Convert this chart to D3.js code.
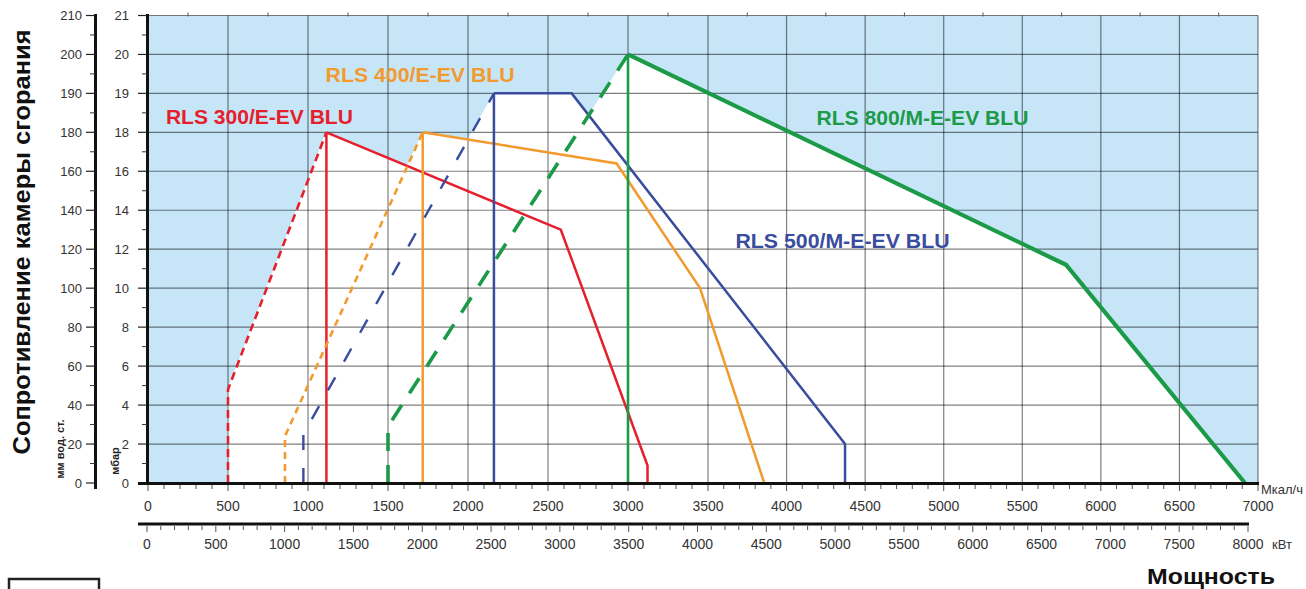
<!DOCTYPE html>
<html><head><meta charset="utf-8">
<script src="https://cdn.jsdelivr.net/npm/d3@7"></script>
<style>
html,body{margin:0;padding:0;background:#fff;}
svg{display:block;}
text{font-family:"Liberation Sans Narrow","Arial Narrow","Liberation Sans",Arial,sans-serif;}
text.b{font-family:"Liberation Sans",Arial,sans-serif;font-weight:bold;}
</style></head><body>
<svg id="c" width="1306" height="589"></svg>
<script>
// ---- data ----
const mcalTicks = [0,500,1000,1500,2000,2500,3000,3500,4000,4500,5000,5500,6000,6500,7000];
const kwTicks = [0,500,1000,1500,2000,2500,3000,3500,4000,4500,5000,5500,6000,6500,7000,7500,8000];
const mbarTicks = [0,2,4,6,8,10,12,14,16,18,19,20,21];
const mmTicks = [0,20,40,60,80,100,120,140,160,180,190,200,210];
const seriesNames = ["RLS 300/E-EV BLU","RLS 400/E-EV BLU","RLS 500/M-E-EV BLU","RLS 800/M-E-EV BLU"];
// [Mcal/h, mbar]
const rls300Start = [[500,0],[500,4.8],[1115,18]];
const rls300Curve = [[1115,0],[1115,18],[2580,13],[3122,0.9],[3122,0]];
const rls400Start = [[856,0],[856,2.4],[1717,18]];
const rls400Curve = [[1717,0],[1717,18],[2929,16.4],[3450,10],[3858,0]];
const rls500Start = [[971,0],[971,2.5],[2162,19]];
const rls500Curve = [[2162,0],[2162,19],[2648,19],[4372,2],[4372,0]];
const rls800Start = [[1500,0],[1500,2.9],[3000,20]];
const rls800Curve = [[3000,0],[3000,20],[5778,11.2],[6917,0]];

// ---- styles ----
const styles = [
  {color:"#e5202c", w:2.5, dash:"8,5",  dw:2.6, label:[112,18.21], len:187},
  {color:"#f39a2e", w:2.5, dash:"7,5",  dw:2.6, label:[1110,19.3], len:189},
  {color:"#3a4c9e", w:2.5, dash:"15,18",dw:2.4, label:[3675,12.05], len:214},
  {color:"#1b9a48", w:4.2, dash:"18,14",dw:3.6, label:[4190,18.2], len:212}
];
const series = [
  {name:seriesNames[0], start:rls300Start, curve:rls300Curve, ...styles[0]},
  {name:seriesNames[1], start:rls400Start, curve:rls400Curve, ...styles[1]},
  {name:seriesNames[2], start:rls500Start, curve:rls500Curve, ...styles[2]},
  {name:seriesNames[3], start:rls800Start, curve:rls800Curve, ...styles[3]}
];

const svg = d3.select("#c");
const x = d3.scaleLinear().domain([0,3500,7000]).range([148,708,1258]);
const xk = d3.scaleLinear().domain([0,8000]).range([147,1248]);
const y = d3.scaleLinear().domain([0,18,21]).range([483,132.3,15.5]);
const ymm = d3.scaleLinear().domain([0,180,210]).range([483,132.3,15.5]);
const line = d3.line().x(d=>x(d[0])).y(d=>y(d[1]));

// background
svg.append("rect").attr("x",x(0)).attr("y",y(21)).attr("width",x(7000)-x(0)).attr("height",y(0)-y(21)).attr("fill","#c6e6f7");
// white operating areas
series.forEach(s=>{
  const poly = s.start.concat(s.curve.filter(p=>!(p[0]===s.start[2][0] && p[1]===0)));
  svg.append("path").attr("d", line(poly)+"Z").attr("fill","#fff").attr("stroke","#fff").attr("stroke-width",1);
});
// grid
const g = svg.append("g").attr("stroke","#000").attr("stroke-opacity",0.5).attr("stroke-width",1.2);
mcalTicks.forEach(t=>g.append("line").attr("x1",x(t)).attr("x2",x(t)).attr("y1",y(0)).attr("y2",y(21)));
mbarTicks.forEach(t=>g.append("line").attr("x1",x(0)).attr("x2",x(7000)).attr("y1",y(t)).attr("y2",y(t)));
// top minor ticks
d3.range(250,7000,500).forEach(t=>svg.append("line").attr("x1",x(t)).attr("x2",x(t)).attr("y1",y(21)-3).attr("y2",y(21)+1).attr("stroke","#555").attr("stroke-width",1));

// series lines
series.forEach(s=>{
  svg.append("path").attr("d",line(s.start)).attr("fill","none").attr("stroke",s.color)
    .attr("stroke-width",s.dw).attr("stroke-dasharray",s.dash);
  const vert = s.curve.slice(0,2), rest = s.curve.slice(1);
  svg.append("path").attr("d",line(vert)).attr("fill","none").attr("stroke",s.color).attr("stroke-width",Math.min(s.w,2.6));
  svg.append("path").attr("d",line(rest)).attr("fill","none").attr("stroke",s.color).attr("stroke-width",s.w).attr("stroke-linejoin","miter");
  svg.append("text").attr("class","b").attr("x",x(s.label[0])).attr("y",y(s.label[1]))
    .attr("font-size",21).attr("fill",s.color).attr("textLength",s.len).attr("lengthAdjust","spacingAndGlyphs").text(s.name);
});

// mbar axis
const axMbar = svg.append("g");
axMbar.append("line").attr("x1",147.5).attr("x2",147.5).attr("y1",14).attr("y2",485).attr("stroke","#111").attr("stroke-width",3);
mbarTicks.forEach(t=>{
  axMbar.append("line").attr("x1",138).attr("x2",147).attr("y1",y(t)).attr("y2",y(t)).attr("stroke","#222").attr("stroke-width",1.2);
  axMbar.append("text").attr("x",129).attr("y",y(t)).attr("dy","0.35em").attr("text-anchor","end").attr("font-size",13).attr("fill","#333").text(t);
});
[1,3,5,7,9,11,13,15,17,18.5,19.5,20.5].forEach(t=>axMbar.append("line").attr("x1",142).attr("x2",147).attr("y1",y(t)).attr("y2",y(t)).attr("stroke","#333").attr("stroke-width",1));
// mm axis
const axMm = svg.append("g");
axMm.append("line").attr("x1",95.5).attr("x2",95.5).attr("y1",14).attr("y2",489).attr("stroke","#111").attr("stroke-width",3);
mmTicks.forEach(t=>{
  axMm.append("line").attr("x1",86).attr("x2",95).attr("y1",ymm(t)).attr("y2",ymm(t)).attr("stroke","#222").attr("stroke-width",1.2);
  axMm.append("text").attr("x",82).attr("y",ymm(t)).attr("dy","0.35em").attr("text-anchor","end").attr("font-size",13).attr("fill","#333").text(t);
});
[10,30,50,70,90,110,130,150,170,185,195,205].forEach(t=>axMm.append("line").attr("x1",90).attr("x2",95).attr("y1",ymm(t)).attr("y2",ymm(t)).attr("stroke","#333").attr("stroke-width",1));

// Mcal axis
const axM = svg.append("g");
axM.append("line").attr("x1",138).attr("x2",1259).attr("y1",483.5).attr("y2",483.5).attr("stroke","#111").attr("stroke-width",3);
d3.range(0,7001,100).forEach(t=>axM.append("line").attr("x1",x(t)).attr("x2",x(t)).attr("y1",485).attr("y2",t%500===0?491:489).attr("stroke","#555").attr("stroke-width",1));
mcalTicks.forEach(t=>axM.append("text").attr("x",x(t)).attr("y",506).attr("dy","0.35em").attr("text-anchor","middle").attr("font-size",14).attr("fill","#333").text(t));
axM.append("text").attr("x",1261).attr("y",489).attr("dy","0.35em").attr("font-size",13).attr("fill","#333").text("Мкал/ч");
// kW axis
const axK = svg.append("g");
axK.append("line").attr("x1",138).attr("x2",1249).attr("y1",524).attr("y2",524).attr("stroke","#111").attr("stroke-width",3);
d3.range(0,8001,100).forEach(t=>axK.append("line").attr("x1",xk(t)).attr("x2",xk(t)).attr("y1",526).attr("y2",t%500===0?532:530).attr("stroke","#555").attr("stroke-width",1));
kwTicks.forEach(t=>axK.append("text").attr("x",xk(t)).attr("y",544).attr("dy","0.35em").attr("text-anchor","middle").attr("font-size",14).attr("fill","#333").text(t));
axK.append("text").attr("x",1272).attr("y",544).attr("dy","0.35em").attr("font-size",13).attr("fill","#333").text("кВт");

// titles
svg.append("text").attr("class","b").attr("transform","translate(30,242) rotate(-90)").attr("text-anchor","middle")
  .attr("font-size",23).attr("fill","#111").attr("textLength",425).attr("lengthAdjust","spacingAndGlyphs").text("Сопротивление камеры сгорания");
svg.append("text").attr("class","b").attr("transform","translate(64,449) rotate(-90)").attr("text-anchor","middle")
  .attr("font-size",11).attr("fill","#222").text("мм вод. ст.");
svg.append("text").attr("class","b").attr("transform","translate(119,461) rotate(-90)").attr("text-anchor","middle")
  .attr("font-size",11).attr("fill","#222").text("мбар");
svg.append("text").attr("class","b").attr("x",1147).attr("y",584).attr("font-size",22).attr("fill","#111")
  .attr("textLength",128).attr("lengthAdjust","spacingAndGlyphs").text("Мощность");
// legend box (cut at bottom)
svg.append("rect").attr("x",9).attr("y",579).attr("width",90).attr("height",30).attr("fill","none").attr("stroke","#222").attr("stroke-width",2.5);
</script>
</body></html>
